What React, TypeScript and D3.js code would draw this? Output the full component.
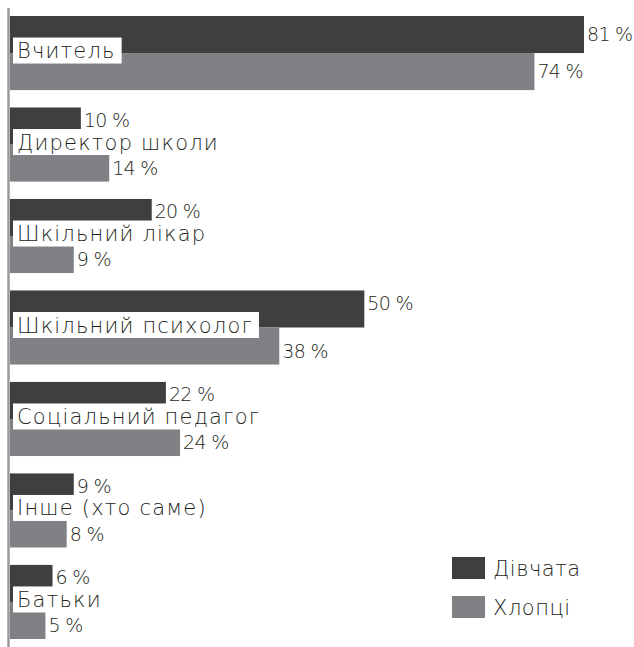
import React from 'react';
import * as d3 from 'd3';

const categories = [
  'Вчитель',
  'Директор школи',
  'Шкільний лікар',
  'Шкільний психолог',
  'Соціальний педагог',
  'Інше (хто саме)',
  'Батьки',
];
const seriesNames = ['Дівчата', 'Хлопці'];
const girls = [81, 10, 20, 50, 22, 9, 6];
const boys = [74, 14, 9, 38, 24, 8, 5];
const girlsLabels = ['81 %', '10 %', '20 %', '50 %', '22 %', '9 %', '6 %'];
const boysLabels = ['74 %', '14 %', '9 %', '38 %', '24 %', '8 %', '5 %'];

const W = 634;
const H = 647;
const COLORS = ['#3f3f3f', '#808185'];
const FONT = '"DejaVu Sans", sans-serif';

export default function App() {
  const x = d3.scaleLinear().domain([0, 81]).range([10, 584]);
  const y = d3.scaleBand<string>().domain(categories).range([16, 639]).paddingInner(0.19).paddingOuter(0);
  const inner = d3.scaleBand<string>().domain(seriesNames).range([0, y.bandwidth()]);
  const color = d3.scaleOrdinal<string, string>().domain(seriesNames).range(COLORS);
  const series = [girls, boys];
  const labels = [girlsLabels, boysLabels];
  const bh = inner.bandwidth();

  const textRefs = React.useRef<(SVGTextElement | null)[]>([]);
  const [widths, setWidths] = React.useState<number[]>([]);
  React.useEffect(() => {
    setWidths(textRefs.current.map((t) => (t ? t.getComputedTextLength() : 0)));
  }, []);

  return (
    <svg width={W} height={H} style={{ position: 'absolute', left: 0, top: 0, background: '#fff' }}>
      {categories.map((c, i) => {
        const y0 = y(c)!;
        const boundary = y0 + bh;
        const boxTop = boundary - 15.5;
        return (
          <g key={c}>
            {seriesNames.map((s, si) => {
              const v = series[si][i];
              const by = y0 + inner(s)!;
              return (
                <rect key={s} x={x(0)} y={by} width={x(v) - x(0)} height={bh} fill={color(s)} />
              );
            })}
            {seriesNames.map((s, si) => {
              const v = series[si][i];
              const by = y0 + inner(s)!;
              const cy = by + bh / 2 + (i === 0 ? 0 : si === 0 ? -6 : 5);
              return (
                <text
                  key={s + 'l'}
                  x={x(v) + 3}
                  y={cy}
                  dy="0.36em"
                  fontFamily={FONT}
                  fontWeight={200}
                  fontSize={19}
                  letterSpacing={-0.7}
                  fill="#231f20"
                >
                  {labels[si][i]}
                </text>
              );
            })}
            <rect
              x={13}
              y={boxTop}
              width={(widths[i] || 0) + 10}
              height={26}
              fill="#fff"
            />
            <text
              ref={(el) => {
                textRefs.current[i] = el;
              }}
              x={17}
              y={boxTop + 20.5}
              fontFamily={FONT}
              fontWeight={200}
              fontSize={21}
              letterSpacing={1.2}
              fill="#231f20"
            >
              {c}
            </text>
          </g>
        );
      })}
      <line x1={8.5} x2={8.5} y1={8} y2={H} stroke="#9a9a9a" strokeWidth={2.5} />
      {seriesNames.map((s, si) => (
        <g key={s} transform={`translate(452, ${562 + si * 39})`}>
          <rect x={0} y={-5} width={33} height={22} fill={color(s)} />
          <text
            x={41}
            y={6}
            dy="0.36em"
            fontFamily={FONT}
            fontWeight={200}
            fontSize={21}
            letterSpacing={0.5}
            fill="#231f20"
          >
            {s}
          </text>
        </g>
      ))}
    </svg>
  );
}
